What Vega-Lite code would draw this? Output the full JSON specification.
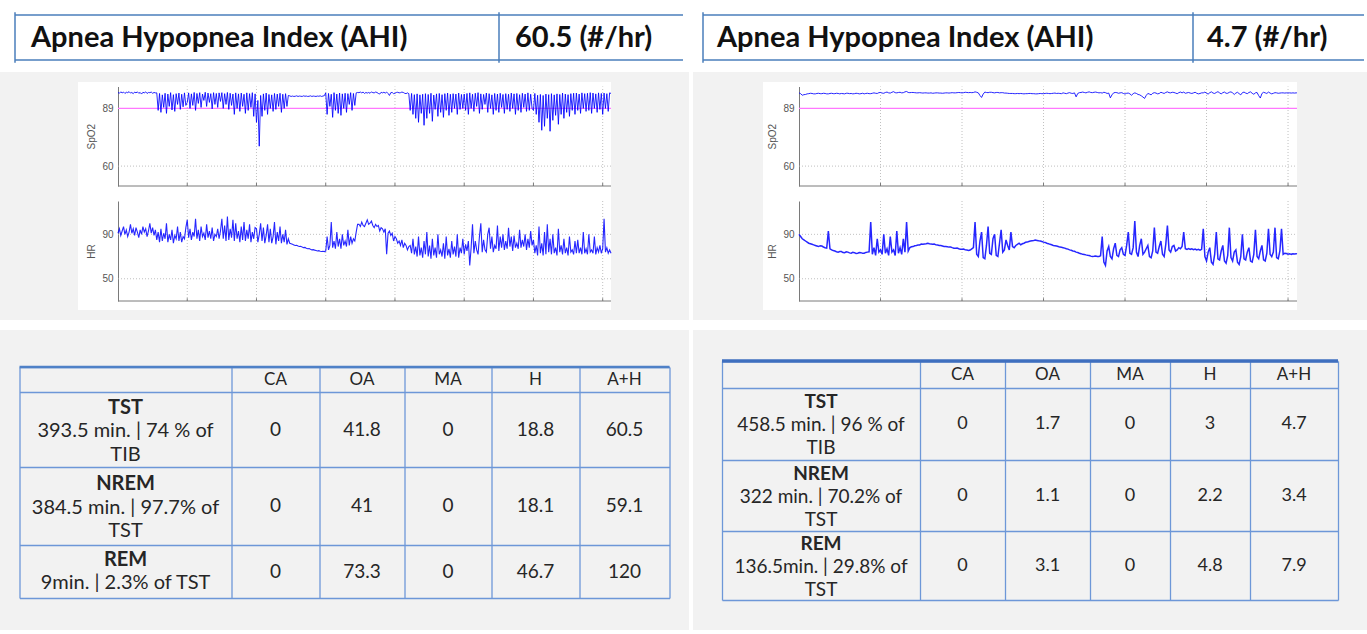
{
"$schema":"https://vega.github.io/schema/vega-lite/v6.json",
"background":"#f2f2f2",
"padding":0,
"spacing":0,
"config":{"view":{"stroke":null},"font":"Lato",
"axis":{"labelFont":"Liberation Sans","labelFontSize":10,"labelColor":"#555555","titleFont":"Liberation Sans","titleFontSize":10,"titleFontWeight":"normal","titleColor":"#555555","domainColor":"#7a7a7a","tickSize":0,"labelPadding":5,"titlePadding":5,"grid":false}},
"datasets":{
"L":[{"t":0,"s":97,"h":91},{"t":0.02,"s":96.6,"h":95},{"t":0.04,"s":97.3,"h":89},{"t":0.06,"s":96.8,"h":93},{"t":0.08,"s":97.2,"h":97},{"t":0.1,"s":96.5,"h":90},{"t":0.12,"s":97.1,"h":94},{"t":0.14,"s":96.9,"h":88},{"t":0.16,"s":97.4,"h":92},{"t":0.18,"s":96.7,"h":99},{"t":0.2,"s":97,"h":91},{"t":0.22,"s":96.4,"h":95},{"t":0.24,"s":97.2,"h":89},{"t":0.26,"s":96.8,"h":96},{"t":0.28,"s":97.3,"h":92},{"t":0.3,"s":96.6,"h":87},{"t":0.32,"s":97,"h":94},{"t":0.34,"s":96.2,"h":90},{"t":0.36,"s":97.1,"h":97},{"t":0.38,"s":96.8,"h":92},{"t":0.4,"s":97.3,"h":95},{"t":0.42,"s":96.5,"h":88},{"t":0.44,"s":97,"h":93},{"t":0.46,"s":96.9,"h":100},{"t":0.48,"s":97.2,"h":91},{"t":0.5,"s":96.6,"h":96},{"t":0.52,"s":97,"h":89},{"t":0.54,"s":96.8,"h":94},
{"t":0.56,"s":96.8,"h":85},{"t":0.58,"s":88,"h":92},{"t":0.6,"s":96.5,"h":83},{"t":0.62,"s":87,"h":95},{"t":0.64,"s":95.8,"h":84},{"t":0.66,"s":89.5,"h":91},{"t":0.68,"s":96.6,"h":86},{"t":0.7,"s":86.5,"h":100},{"t":0.72,"s":96.2,"h":83},{"t":0.74,"s":90,"h":90},{"t":0.76,"s":96.9,"h":85},{"t":0.78,"s":88.2,"h":94},{"t":0.8,"s":95.9,"h":82},{"t":0.82,"s":87.5,"h":89},{"t":0.84,"s":96.4,"h":86},{"t":0.86,"s":91,"h":97},{"t":0.88,"s":96.7,"h":84},{"t":0.9,"s":88.5,"h":92},{"t":0.92,"s":96.1,"h":83},{"t":0.94,"s":89.8,"h":88},{"t":0.96,"s":96.8,"h":86},{"t":0.98,"s":90.5,"h":96},
{"t":1,"s":92,"h":103},{"t":1.02,"s":96.8,"h":87},{"t":1.04,"s":89,"h":95},{"t":1.06,"s":96.3,"h":85},{"t":1.08,"s":90.5,"h":92},{"t":1.1,"s":97,"h":88},{"t":1.12,"s":88,"h":104},{"t":1.14,"s":96.5,"h":86},{"t":1.16,"s":91.5,"h":94},{"t":1.18,"s":96.9,"h":84},{"t":1.2,"s":89.5,"h":97},{"t":1.22,"s":96.2,"h":88},{"t":1.24,"s":93,"h":91},{"t":1.26,"s":97.1,"h":85},{"t":1.28,"s":90,"h":99},{"t":1.3,"s":96.7,"h":87},{"t":1.32,"s":92,"h":93},{"t":1.34,"s":96.4,"h":86},{"t":1.36,"s":88.8,"h":96},{"t":1.38,"s":96.9,"h":84},{"t":1.4,"s":91,"h":90},{"t":1.42,"s":96.5,"h":88},{"t":1.44,"s":89.5,"h":95},{"t":1.46,"s":96.8,"h":86},{"t":1.48,"s":92.5,"h":93},
{"t":1.5,"s":96.9,"h":104},{"t":1.52,"s":89,"h":86},{"t":1.54,"s":96.4,"h":98},{"t":1.56,"s":91,"h":84},{"t":1.58,"s":97,"h":106},{"t":1.6,"s":88.5,"h":85},{"t":1.62,"s":96.6,"h":95},{"t":1.64,"s":90.5,"h":87},{"t":1.66,"s":96.2,"h":103},{"t":1.68,"s":86,"h":84},{"t":1.7,"s":96.8,"h":100},{"t":1.72,"s":89,"h":86},{"t":1.74,"s":96.3,"h":93},{"t":1.76,"s":87.5,"h":83},{"t":1.78,"s":96.7,"h":97},{"t":1.8,"s":90,"h":85},{"t":1.82,"s":96.1,"h":101},{"t":1.84,"s":86.5,"h":84},{"t":1.86,"s":96.8,"h":94},{"t":1.88,"s":88,"h":86},{"t":1.9,"s":96.4,"h":99},{"t":1.92,"s":89.5,"h":83},{"t":1.94,"s":96.9,"h":92},{"t":1.96,"s":85,"h":86},{"t":1.98,"s":96.3,"h":96},
{"t":2,"s":82,"h":95},{"t":2.02,"s":93,"h":83},{"t":2.04,"s":70,"h":90},{"t":2.06,"s":95.5,"h":100},{"t":2.08,"s":85,"h":84},{"t":2.1,"s":96.3,"h":96},{"t":2.12,"s":88,"h":82},{"t":2.14,"s":96.7,"h":89},{"t":2.16,"s":86,"h":99},{"t":2.18,"s":96,"h":83},{"t":2.2,"s":89,"h":95},{"t":2.22,"s":95.8,"h":82},{"t":2.24,"s":87.5,"h":88},{"t":2.26,"s":96.5,"h":101},{"t":2.28,"s":88.5,"h":81},{"t":2.3,"s":96.2,"h":92},{"t":2.32,"s":90,"h":84},{"t":2.34,"s":96.6,"h":97},{"t":2.36,"s":87,"h":82},{"t":2.38,"s":96.1,"h":90},{"t":2.4,"s":89,"h":83},{"t":2.42,"s":96.4,"h":94},{"t":2.44,"s":90,"h":81},{"t":2.46,"s":95.5,"h":86},
{"t":2.48,"s":95.3,"h":82},{"t":2.5,"s":95,"h":81.5},{"t":2.52,"s":95.2,"h":81},{"t":2.54,"s":95,"h":80.5},{"t":2.56,"s":95.1,"h":80},{"t":2.58,"s":95.3,"h":80.2},{"t":2.6,"s":95,"h":79.5},{"t":2.62,"s":95.2,"h":79},{"t":2.64,"s":95.1,"h":79.2},{"t":2.66,"s":95,"h":78.5},{"t":2.68,"s":95.3,"h":78},{"t":2.7,"s":95.1,"h":78.2},{"t":2.72,"s":95.2,"h":77.5},{"t":2.74,"s":95,"h":77},{"t":2.76,"s":95.1,"h":77.2},{"t":2.78,"s":95.3,"h":76.5},{"t":2.8,"s":95,"h":76},{"t":2.82,"s":95.2,"h":76.2},{"t":2.84,"s":95.1,"h":75.8},{"t":2.86,"s":95,"h":75.5},{"t":2.88,"s":95.2,"h":75},{"t":2.9,"s":95.1,"h":75.3},{"t":2.92,"s":95.3,"h":74.8},{"t":2.94,"s":95,"h":74.5},{"t":2.96,"s":95.2,"h":74.8},{"t":2.98,"s":95.4,"h":74.5},
{"t":3,"s":96.8,"h":75},{"t":3.02,"s":86,"h":88},{"t":3.04,"s":96.5,"h":76},{"t":3.06,"s":90,"h":80},{"t":3.08,"s":96.1,"h":101},{"t":3.1,"s":84.5,"h":78},{"t":3.12,"s":96.9,"h":84},{"t":3.14,"s":88,"h":77},{"t":3.16,"s":96.2,"h":92},{"t":3.18,"s":86.5,"h":79},{"t":3.2,"s":96.7,"h":86},{"t":3.22,"s":85.5,"h":77},{"t":3.24,"s":96.3,"h":90},{"t":3.26,"s":89,"h":80},{"t":3.28,"s":96.6,"h":84},{"t":3.3,"s":87,"h":79},{"t":3.32,"s":96.4,"h":94},{"t":3.34,"s":91,"h":80},{"t":3.36,"s":96.9,"h":88},{"t":3.38,"s":88,"h":82},{"t":3.4,"s":96.5,"h":86},{"t":3.42,"s":90.5,"h":84},{"t":3.44,"s":96.8,"h":92},{"t":3.46,"s":97,"h":99},
{"t":3.48,"s":96.9,"h":99},{"t":3.5,"s":97.2,"h":97},{"t":3.52,"s":96.8,"h":101},{"t":3.54,"s":97.2,"h":98},{"t":3.56,"s":96.5,"h":97},{"t":3.58,"s":97,"h":100},{"t":3.6,"s":96.7,"h":103},{"t":3.62,"s":97,"h":99},{"t":3.64,"s":96.6,"h":100},{"t":3.66,"s":97.3,"h":102},{"t":3.68,"s":96.9,"h":98},{"t":3.7,"s":96.8,"h":96},{"t":3.72,"s":97.2,"h":99},{"t":3.74,"s":97,"h":97},{"t":3.76,"s":96.5,"h":98},{"t":3.78,"s":96.2,"h":93},{"t":3.8,"s":97.1,"h":96},{"t":3.82,"s":96.8,"h":95},{"t":3.84,"s":97.1,"h":92},{"t":3.86,"s":96.7,"h":95},{"t":3.88,"s":97.2,"h":72},{"t":3.9,"s":96.5,"h":91},{"t":3.92,"s":95.5,"h":93},{"t":3.94,"s":96.9,"h":89},{"t":3.96,"s":97,"h":91},{"t":3.98,"s":96.4,"h":84},{"t":4,"s":96.6,"h":88},{"t":4.02,"s":97,"h":86},{"t":4.04,"s":97.1,"h":82},{"t":4.06,"s":96.8,"h":84},{"t":4.08,"s":96.9,"h":80},{"t":4.1,"s":97.2,"h":85},{"t":4.12,"s":97,"h":78},{"t":4.14,"s":96.6,"h":82},{"t":4.16,"s":96.4,"h":80},{"t":4.18,"s":96.8,"h":76},{"t":4.2,"s":96.4,"h":79},
{"t":4.22,"s":88,"h":80},{"t":4.24,"s":96.5,"h":73},{"t":4.26,"s":86,"h":86},{"t":4.28,"s":95.9,"h":72},{"t":4.3,"s":84,"h":79},{"t":4.32,"s":96.3,"h":70},{"t":4.34,"s":82,"h":88},{"t":4.36,"s":95.8,"h":71},{"t":4.38,"s":86.5,"h":78},{"t":4.4,"s":96.1,"h":69},{"t":4.42,"s":80.5,"h":84},{"t":4.44,"s":96.4,"h":72},{"t":4.46,"s":84,"h":92},{"t":4.48,"s":96,"h":70},{"t":4.5,"s":86.5,"h":80},{"t":4.52,"s":96.6,"h":68},{"t":4.54,"s":82.5,"h":86},{"t":4.56,"s":95.7,"h":71},{"t":4.58,"s":88.5,"h":78},{"t":4.6,"s":96.3,"h":69},{"t":4.62,"s":85,"h":90},{"t":4.64,"s":96.5,"h":72},{"t":4.66,"s":87,"h":76},{"t":4.68,"s":95.9,"h":70},{"t":4.7,"s":84.5,"h":82},{"t":4.72,"s":96.4,"h":68},{"t":4.74,"s":88,"h":88},{"t":4.76,"s":96.7,"h":71},{"t":4.78,"s":85.5,"h":77},{"t":4.8,"s":96.1,"h":69},{"t":4.82,"s":87,"h":84},{"t":4.84,"s":96.4,"h":72},{"t":4.86,"s":89,"h":79},{"t":4.88,"s":96.2,"h":70},{"t":4.9,"s":86,"h":90},{"t":4.92,"s":96.7,"h":69},{"t":4.94,"s":88.5,"h":78},{"t":4.96,"s":96,"h":73},{"t":4.98,"s":89,"h":86},
{"t":5,"s":96.2,"h":72},{"t":5.02,"s":88,"h":81},{"t":5.04,"s":96.5,"h":75},{"t":5.06,"s":86,"h":84},{"t":5.08,"s":96.8,"h":62},{"t":5.1,"s":89,"h":78},{"t":5.12,"s":96.1,"h":99},{"t":5.14,"s":87.5,"h":73},{"t":5.16,"s":96.6,"h":84},{"t":5.18,"s":90,"h":76},{"t":5.2,"s":96.9,"h":72},{"t":5.22,"s":86.5,"h":88},{"t":5.24,"s":96.3,"h":100},{"t":5.26,"s":88.5,"h":74},{"t":5.28,"s":96,"h":85},{"t":5.3,"s":91,"h":76},{"t":5.32,"s":96.7,"h":74},{"t":5.34,"s":87,"h":90},{"t":5.36,"s":96.4,"h":96},{"t":5.38,"s":89,"h":77},{"t":5.4,"s":95.8,"h":88},{"t":5.42,"s":86,"h":74},{"t":5.44,"s":96.5,"h":80},{"t":5.46,"s":88,"h":77},{"t":5.48,"s":96.2,"h":98},{"t":5.5,"s":87,"h":75},{"t":5.52,"s":96.6,"h":88},{"t":5.54,"s":89.5,"h":78},{"t":5.56,"s":96,"h":90},{"t":5.58,"s":86.5,"h":76},{"t":5.6,"s":96.4,"h":84},{"t":5.62,"s":88.5,"h":77},{"t":5.64,"s":96.1,"h":96},{"t":5.66,"s":87.5,"h":79},{"t":5.68,"s":96.7,"h":88},{"t":5.7,"s":89,"h":75},{"t":5.72,"s":96.3,"h":89},{"t":5.74,"s":86,"h":78},{"t":5.76,"s":96.5,"h":82},{"t":5.78,"s":88,"h":77},{"t":5.8,"s":95.9,"h":94},{"t":5.82,"s":87,"h":78},{"t":5.84,"s":96.6,"h":85},{"t":5.86,"s":89.5,"h":79},{"t":5.88,"s":96.2,"h":90},{"t":5.9,"s":87.5,"h":76},{"t":5.92,"s":96.8,"h":86},{"t":5.94,"s":88,"h":78},{"t":5.96,"s":96.1,"h":93},{"t":5.98,"s":89,"h":80},
{"t":6,"s":88,"h":85},{"t":6.02,"s":96.5,"h":73},{"t":6.04,"s":86,"h":80},{"t":6.06,"s":95.6,"h":71},{"t":6.08,"s":82,"h":97},{"t":6.1,"s":96,"h":73},{"t":6.12,"s":78,"h":82},{"t":6.14,"s":95.5,"h":71},{"t":6.16,"s":80,"h":92},{"t":6.18,"s":96.2,"h":72},{"t":6.2,"s":84,"h":99},{"t":6.22,"s":95.9,"h":74},{"t":6.24,"s":77.5,"h":86},{"t":6.26,"s":96.4,"h":72},{"t":6.28,"s":83,"h":90},{"t":6.3,"s":95.8,"h":73},{"t":6.32,"s":85.5,"h":78},{"t":6.34,"s":96.3,"h":71},{"t":6.36,"s":81,"h":95},{"t":6.38,"s":96,"h":74},{"t":6.4,"s":86,"h":80},{"t":6.42,"s":96.7,"h":72},{"t":6.44,"s":84,"h":86},{"t":6.46,"s":96.2,"h":73},{"t":6.48,"s":87,"h":78},{"t":6.5,"s":95.9,"h":71},{"t":6.52,"s":85,"h":88},{"t":6.54,"s":96.4,"h":74},{"t":6.56,"s":88,"h":76},{"t":6.58,"s":96.6,"h":72},{"t":6.6,"s":86,"h":84},{"t":6.62,"s":96.7,"h":73},
{"t":6.64,"s":88,"h":85},{"t":6.66,"s":96.2,"h":73},{"t":6.68,"s":86.5,"h":78},{"t":6.7,"s":96.8,"h":72},{"t":6.72,"s":89,"h":92},{"t":6.74,"s":96.4,"h":73},{"t":6.76,"s":87.5,"h":77},{"t":6.78,"s":96.6,"h":72},{"t":6.8,"s":88,"h":90},{"t":6.82,"s":96.9,"h":74},{"t":6.84,"s":86.5,"h":76},{"t":6.86,"s":96.7,"h":73},{"t":6.88,"s":89,"h":88},{"t":6.9,"s":96.3,"h":72},{"t":6.92,"s":87,"h":78},{"t":6.94,"s":96.8,"h":74},{"t":6.96,"s":88.5,"h":80},{"t":6.98,"s":96.5,"h":73},{"t":7,"s":86,"h":77},{"t":7.02,"s":96.7,"h":104},{"t":7.04,"s":89,"h":74},{"t":7.06,"s":96.4,"h":78},{"t":7.08,"s":87.5,"h":73},{"t":7.1,"s":96.8,"h":76},{"t":7.12,"s":96.5,"h":73}],
"R":[{"t":0,"s":96.8,"h":90},{"t":0.02,"s":96.4,"h":88},{"t":0.04,"s":95.6,"h":86},{"t":0.06,"s":95.9,"h":85},{"t":0.08,"s":96,"h":84},{"t":0.1,"s":96.3,"h":83},{"t":0.12,"s":96.4,"h":82},{"t":0.14,"s":96.6,"h":81.5},{"t":0.16,"s":96.5,"h":81},{"t":0.18,"s":96.3,"h":80.5},{"t":0.2,"s":96.3,"h":80},{"t":0.22,"s":96.5,"h":79.5},{"t":0.24,"s":96.6,"h":79},{"t":0.26,"s":96.4,"h":79.8},{"t":0.28,"s":96.4,"h":79.5},{"t":0.3,"s":96.6,"h":78.6},{"t":0.32,"s":96.5,"h":78},{"t":0.34,"s":96.3,"h":77.6},{"t":0.36,"s":96.3,"h":93},{"t":0.38,"s":96.5,"h":77},{"t":0.4,"s":96.6,"h":76},{"t":0.42,"s":96.4,"h":75.4},{"t":0.44,"s":96.4,"h":75},{"t":0.46,"s":96.6,"h":74.4},{"t":0.48,"s":96.5,"h":74},{"t":0.5,"s":96.3,"h":74.6},{"t":0.52,"s":96.5,"h":74.5},{"t":0.54,"s":96.4,"h":73.6},{"t":0.56,"s":96.3,"h":73.5},{"t":0.58,"s":96.6,"h":74.2},{"t":0.6,"s":96.6,"h":74},{"t":0.62,"s":96.4,"h":73.3},{"t":0.64,"s":96.5,"h":73},{"t":0.66,"s":96.3,"h":73.8},{"t":0.68,"s":96.4,"h":73.5},{"t":0.7,"s":96.6,"h":72.8},{"t":0.72,"s":96.5,"h":73},{"t":0.74,"s":96.3,"h":73.6},{"t":0.76,"s":96.4,"h":73.5},{"t":0.78,"s":96.6,"h":72.9},{"t":0.8,"s":96.3,"h":73},{"t":0.82,"s":96.5,"h":73.7},{"t":0.84,"s":96.6,"h":74},{"t":0.86,"s":96.4,"h":74.3},
{"t":0.88,"s":96.4,"h":101},{"t":0.9,"s":96.6,"h":72},{"t":0.92,"s":96.8,"h":78},{"t":0.94,"s":96.6,"h":71},{"t":0.96,"s":96.5,"h":86},{"t":0.98,"s":96.9,"h":74},{"t":1,"s":97,"h":76},{"t":1.02,"s":96.7,"h":72},{"t":1.04,"s":96.6,"h":90},{"t":1.06,"s":97,"h":73},{"t":1.08,"s":97.2,"h":77},{"t":1.1,"s":96.8,"h":71},{"t":1.12,"s":96.7,"h":88},{"t":1.14,"s":97.1,"h":74},{"t":1.16,"s":97.4,"h":76},{"t":1.18,"s":96.9,"h":71},{"t":1.2,"s":96.8,"h":93},{"t":1.22,"s":97,"h":73},{"t":1.24,"s":97.1,"h":78},{"t":1.26,"s":96.8,"h":72},{"t":1.28,"s":96.9,"h":86},{"t":1.3,"s":97.3,"h":74},{"t":1.32,"s":97.5,"h":101},{"t":1.34,"s":97,"h":75},
{"t":1.36,"s":96.9,"h":78},{"t":1.38,"s":97,"h":78.8},{"t":1.4,"s":97,"h":79},{"t":1.42,"s":96.9,"h":79.7},{"t":1.44,"s":96.8,"h":80},{"t":1.46,"s":96.8,"h":80.4},{"t":1.48,"s":96.9,"h":80.5},{"t":1.5,"s":96.8,"h":81.2},{"t":1.52,"s":96.7,"h":81},{"t":1.54,"s":96.8,"h":81.3},{"t":1.56,"s":96.8,"h":81.5},{"t":1.58,"s":96.7,"h":81.9},{"t":1.6,"s":96.7,"h":81.5},{"t":1.62,"s":96.8,"h":81.2},{"t":1.64,"s":96.6,"h":81},{"t":1.66,"s":96.7,"h":81.2},{"t":1.68,"s":96.8,"h":80.5},{"t":1.7,"s":96.8,"h":80.3},{"t":1.72,"s":96.7,"h":80},{"t":1.74,"s":96.7,"h":79.9},{"t":1.76,"s":96.6,"h":79.5},{"t":1.78,"s":96.7,"h":79.1},{"t":1.8,"s":96.8,"h":79},{"t":1.82,"s":96.8,"h":78.8},{"t":1.84,"s":96.7,"h":78.5},{"t":1.86,"s":96.8,"h":78.6},{"t":1.88,"s":96.9,"h":78},{"t":1.9,"s":96.8,"h":77.5},{"t":1.92,"s":96.8,"h":77.5},{"t":1.94,"s":96.9,"h":77.6},{"t":1.96,"s":97,"h":77},{"t":1.98,"s":96.9,"h":76.6},{"t":2,"s":96.8,"h":76.5},{"t":2.02,"s":96.9,"h":76.7},{"t":2.04,"s":97.1,"h":76},{"t":2.06,"s":97,"h":75.8},{"t":2.08,"s":96.9,"h":75.5},{"t":2.1,"s":97,"h":75.9},{"t":2.12,"s":96.9,"h":77},
{"t":2.14,"s":97,"h":78},{"t":2.16,"s":97.3,"h":101},{"t":2.18,"s":97.1,"h":72},{"t":2.2,"s":96.8,"h":70},{"t":2.22,"s":95.5,"h":84},{"t":2.24,"s":94.5,"h":92},{"t":2.26,"s":96.2,"h":69},{"t":2.28,"s":97.2,"h":68},{"t":2.3,"s":97,"h":80},{"t":2.32,"s":96.9,"h":97},{"t":2.34,"s":97.1,"h":73},{"t":2.36,"s":97.1,"h":72},{"t":2.38,"s":96.9,"h":86},{"t":2.4,"s":96.8,"h":90},{"t":2.42,"s":97,"h":71},{"t":2.44,"s":97,"h":70},{"t":2.46,"s":96.8,"h":82},{"t":2.48,"s":96.9,"h":94},{"t":2.5,"s":96.9,"h":74},{"t":2.52,"s":96.7,"h":76},{"t":2.54,"s":96.7,"h":85},{"t":2.56,"s":96.6,"h":80},{"t":2.58,"s":96.5,"h":76},{"t":2.6,"s":96.5,"h":92},{"t":2.62,"s":96.5,"h":79},{"t":2.64,"s":96.4,"h":78},{"t":2.66,"s":96.4,"h":80},{"t":2.68,"s":96.5,"h":81},{"t":2.7,"s":96.4,"h":82},
{"t":2.72,"s":96.5,"h":80.5},{"t":2.74,"s":96.4,"h":81.5},{"t":2.76,"s":96.3,"h":82},{"t":2.78,"s":96.4,"h":82.8},{"t":2.8,"s":96.4,"h":83},{"t":2.82,"s":96.5,"h":83.6},{"t":2.84,"s":96.5,"h":84},{"t":2.86,"s":96.4,"h":84.3},{"t":2.88,"s":96.4,"h":84.5},{"t":2.9,"s":96.3,"h":84.8},{"t":2.92,"s":96.3,"h":84.5},{"t":2.94,"s":96.4,"h":84.2},{"t":2.96,"s":96.5,"h":84},{"t":2.98,"s":96.4,"h":83.6},{"t":3,"s":96.4,"h":83},{"t":3.02,"s":96.5,"h":82.7},{"t":3.04,"s":96.6,"h":82},{"t":3.06,"s":96.5,"h":81.6},{"t":3.08,"s":96.4,"h":81},{"t":3.1,"s":96.5,"h":80.6},{"t":3.12,"s":96.6,"h":80},{"t":3.14,"s":96.7,"h":79.8},{"t":3.16,"s":96.5,"h":79.5},{"t":3.18,"s":96.6,"h":79},{"t":3.2,"s":96.5,"h":78.5},{"t":3.22,"s":96.4,"h":78.3},{"t":3.24,"s":96.8,"h":78},{"t":3.26,"s":96.6,"h":77.6},{"t":3.28,"s":96.4,"h":77},{"t":3.3,"s":96.7,"h":76.7},{"t":3.32,"s":96.9,"h":76},{"t":3.34,"s":96.6,"h":75.6},{"t":3.36,"s":96.5,"h":75},{"t":3.38,"s":96.8,"h":74.7},{"t":3.4,"s":94.8,"h":74},{"t":3.42,"s":96.5,"h":73.6},{"t":3.44,"s":96.9,"h":73},{"t":3.46,"s":97,"h":72.6},{"t":3.48,"s":97.2,"h":72},{"t":3.5,"s":97,"h":71.9},{"t":3.52,"s":96.8,"h":71.5},{"t":3.54,"s":97.1,"h":71.2},{"t":3.56,"s":97.3,"h":71},{"t":3.58,"s":97,"h":70.4},{"t":3.6,"s":96.9,"h":70},{"t":3.62,"s":97.1,"h":70.2},{"t":3.64,"s":97.2,"h":70.5},{"t":3.66,"s":97,"h":70.1},{"t":3.68,"s":96.8,"h":70},{"t":3.7,"s":96.9,"h":70.8},
{"t":3.72,"s":96.7,"h":88},{"t":3.74,"s":97.1,"h":65},{"t":3.76,"s":96.9,"h":62},{"t":3.78,"s":96.5,"h":75},{"t":3.8,"s":96.7,"h":79},{"t":3.82,"s":94.3,"h":70},{"t":3.84,"s":95.8,"h":68},{"t":3.86,"s":96.8,"h":77},{"t":3.88,"s":97,"h":82},{"t":3.9,"s":96.9,"h":71},{"t":3.92,"s":96.6,"h":70},{"t":3.94,"s":96.8,"h":76},{"t":3.96,"s":96.9,"h":78},{"t":3.98,"s":96.5,"h":72},{"t":4,"s":96.2,"h":71},{"t":4.02,"s":96.6,"h":80},{"t":4.04,"s":96.7,"h":92},{"t":4.06,"s":96.3,"h":73},{"t":4.08,"s":95.6,"h":72},{"t":4.1,"s":96.4,"h":78},{"t":4.12,"s":96.8,"h":102},{"t":4.14,"s":96.5,"h":74},{"t":4.16,"s":96,"h":70},{"t":4.18,"s":95.8,"h":80},{"t":4.2,"s":95.3,"h":86},{"t":4.22,"s":94.7,"h":72},{"t":4.24,"s":94,"h":74},{"t":4.26,"s":95.5,"h":77},{"t":4.28,"s":96.5,"h":80},{"t":4.3,"s":96.2,"h":70},{"t":4.32,"s":95.8,"h":69},{"t":4.34,"s":96.6,"h":75},{"t":4.36,"s":96.9,"h":96},{"t":4.38,"s":96.7,"h":74},{"t":4.4,"s":96.3,"h":73},{"t":4.42,"s":96.5,"h":79},{"t":4.44,"s":97.1,"h":84},{"t":4.46,"s":96.8,"h":72},{"t":4.48,"s":96.5,"h":70},{"t":4.5,"s":97,"h":81},{"t":4.52,"s":97.3,"h":98},{"t":4.54,"s":96.9,"h":76},{"t":4.56,"s":96.8,"h":74},{"t":4.58,"s":97.1,"h":79},{"t":4.6,"s":97,"h":80},{"t":4.62,"s":96.7,"h":75},{"t":4.64,"s":96.4,"h":76},{"t":4.66,"s":96.9,"h":78},{"t":4.68,"s":97.2,"h":77},{"t":4.7,"s":96.8,"h":79},
{"t":4.72,"s":97.2,"h":92},{"t":4.74,"s":96.6,"h":77},{"t":4.76,"s":96.8,"h":76.5},{"t":4.78,"s":97,"h":77.2},{"t":4.8,"s":96.7,"h":76.5},{"t":4.82,"s":96.5,"h":77},{"t":4.84,"s":96.8,"h":76.2},{"t":4.86,"s":97.1,"h":76.8},{"t":4.88,"s":96.6,"h":76},{"t":4.9,"s":96.3,"h":76.5},{"t":4.92,"s":96.5,"h":75.8},{"t":4.94,"s":96.8,"h":76.5},
{"t":4.96,"s":96.8,"h":95},{"t":4.98,"s":97.2,"h":70},{"t":5,"s":96.6,"h":66},{"t":5.02,"s":96.2,"h":74},{"t":5.04,"s":96.9,"h":78},{"t":5.06,"s":97.3,"h":65},{"t":5.08,"s":96.7,"h":63},{"t":5.1,"s":96.5,"h":72},{"t":5.12,"s":97,"h":92},{"t":5.14,"s":97.4,"h":68},{"t":5.16,"s":96.8,"h":67},{"t":5.18,"s":96.3,"h":75},{"t":5.2,"s":96.9,"h":80},{"t":5.22,"s":97.2,"h":66},{"t":5.24,"s":96.6,"h":64},{"t":5.26,"s":96.6,"h":71},{"t":5.28,"s":97.1,"h":96},{"t":5.3,"s":97.3,"h":69},{"t":5.32,"s":96.8,"h":66},{"t":5.34,"s":96,"h":74},{"t":5.36,"s":96.7,"h":76},{"t":5.38,"s":97.1,"h":65},{"t":5.4,"s":96.4,"h":63},{"t":5.42,"s":95.8,"h":70},{"t":5.44,"s":96.9,"h":90},{"t":5.46,"s":97.2,"h":68},{"t":5.48,"s":96.7,"h":67},{"t":5.5,"s":96.4,"h":74},{"t":5.52,"s":97,"h":78},{"t":5.54,"s":97.3,"h":66},{"t":5.56,"s":96.6,"h":65},{"t":5.58,"s":96.1,"h":72},{"t":5.6,"s":96.8,"h":94},{"t":5.62,"s":97,"h":70},{"t":5.64,"s":95.4,"h":68},{"t":5.66,"s":94.2,"h":75},{"t":5.68,"s":96.5,"h":80},{"t":5.7,"s":97.1,"h":67},{"t":5.72,"s":96.8,"h":66},{"t":5.74,"s":96.5,"h":73},{"t":5.76,"s":97.2,"h":95},{"t":5.78,"s":96.7,"h":72},{"t":5.8,"s":96.3,"h":70},{"t":5.82,"s":96.6,"h":74},{"t":5.84,"s":96.9,"h":96},{"t":5.86,"s":96.8,"h":69},{"t":5.88,"s":96.6,"h":68},{"t":5.9,"s":96.7,"h":75},{"t":5.92,"s":96.8,"h":95},{"t":5.94,"s":96.8,"h":72},{"t":5.96,"s":96.7,"h":73},
{"t":5.98,"s":96.8,"h":72.8},{"t":6,"s":96.7,"h":72.2},{"t":6.02,"s":96.8,"h":72.6},{"t":6.04,"s":96.7,"h":72},{"t":6.06,"s":96.8,"h":72.5},{"t":6.08,"s":96.7,"h":72.3},{"t":6.1,"s":96.8,"h":72.6},{"t":6.11,"s":96.8,"h":72.4}]
},
"hconcat":[
{"vconcat":[
 {"width":689,"height":72,"view":{"fill":"#ffffff"},
  "layer":[
   {"data":{"values":[{"c":0},{"c":1}]},"mark":{"type":"rule","color":"#4a7ebb","strokeWidth":1.5},
    "encoding":{"x":{"field":"c","type":"quantitative","scale":{"domain":[0,1,2],"range":[15,499,683],"nice":false,"zero":false},"axis":null},
     "y":{"datum":-0.06,"type":"quantitative","scale":{"domain":[0,1],"range":[15,60],"nice":false,"zero":false},"axis":null},"y2":{"datum":1.06}}},
   {"data":{"values":[{"r":0},{"r":1}]},"mark":{"type":"rule","color":"#4a7ebb","strokeWidth":1.5},
    "encoding":{"y":{"field":"r","type":"quantitative","axis":null},"x":{"datum":0,"type":"quantitative","axis":null},"x2":{"datum":2}}},
   {"data":{"values":[{"c":0,"txt":"Apnea Hypopnea Index (AHI)"},{"c":1,"txt":"60.5 (#/hr)"}]},
    "mark":{"type":"text","align":"left","baseline":"middle","dx":16,"font":"Lato","fontWeight":"bold","fontSize":29,"color":"#111111"},
    "encoding":{"x":{"field":"c","type":"quantitative","axis":null},"y":{"datum":0.5,"type":"quantitative","axis":null},"text":{"field":"txt","type":"nominal"}}}
  ]},
 {"width":689,"height":10,"data":{"values":[{}]},"mark":{"type":"text","text":"","fontSize":1}},
 {"width":533,"height":228,"view":{"fill":"#ffffff"},"data":{"name":"L"},
  "resolve":{"scale":{"y":"independent"},"axis":{"y":"independent"}},
  "layer":[
   {"layer":[
     {"data":{"values":[{"g":1},{"g":2},{"g":3},{"g":4},{"g":5},{"g":6},{"g":7}]},"mark":{"type":"rule","color":"#b0b0b0","strokeDash":[1,2],"strokeWidth":0.8},
      "encoding":{"x":{"field":"g","type":"quantitative","scale":{"domain":[0,7.12],"range":[40,533],"nice":false,"zero":false},"axis":null},
       "y":{"datum":50,"type":"quantitative","scale":{"domain":[50,100],"range":[104,4.5],"nice":false,"zero":false},"axis":{"orient":"left","offset":-40,"values":[60,89],"title":"SpO2"}},"y2":{"datum":100}}},
     {"data":{"values":[{}]},"mark":{"type":"rule","color":"#b0b0b0","strokeDash":[1,2],"strokeWidth":0.8},
      "encoding":{"x":{"datum":0,"type":"quantitative","axis":null},"x2":{"datum":7.12},"y":{"datum":60,"type":"quantitative"}}},
     {"data":{"values":[{}]},"mark":{"type":"rule","color":"#ff77ff","strokeWidth":1.2},
      "encoding":{"x":{"datum":0,"type":"quantitative","axis":null},"x2":{"datum":7.12},"y":{"datum":89,"type":"quantitative"}}},
     {"data":{"values":[{}]},"mark":{"type":"rule","color":"#7a7a7a","strokeWidth":1},
      "encoding":{"x":{"datum":0,"type":"quantitative","axis":null},"x2":{"datum":7.12},"y":{"datum":50,"type":"quantitative"}}},
     {"data":{"values":[{"g":1},{"g":2},{"g":3},{"g":4},{"g":5},{"g":6},{"g":7}]},"mark":{"type":"rule","color":"#7a7a7a","strokeWidth":1},
      "encoding":{"x":{"field":"g","type":"quantitative","axis":null},"y":{"datum":50,"type":"quantitative"},"y2":{"datum":51.5}}},
     {"mark":{"type":"line","color":"#0000ff","strokeWidth":1,"opacity":0.85},
      "encoding":{"x":{"field":"t","type":"quantitative","axis":null},"y":{"field":"s","type":"quantitative","title":"SpO2"}}}
   ]},
   {"layer":[
     {"data":{"values":[{"g":1},{"g":2},{"g":3},{"g":4},{"g":5},{"g":6},{"g":7}]},"mark":{"type":"rule","color":"#b0b0b0","strokeDash":[1,2],"strokeWidth":0.8},
      "encoding":{"x":{"field":"g","type":"quantitative","axis":null},
       "y":{"datum":30,"type":"quantitative","scale":{"domain":[30,120],"range":[219,119],"nice":false,"zero":false},"axis":{"orient":"left","offset":-40,"values":[50,90],"title":"HR"}},"y2":{"datum":120}}},
     {"data":{"values":[{"v":50},{"v":90}]},"mark":{"type":"rule","color":"#b0b0b0","strokeDash":[1,2],"strokeWidth":0.8},
      "encoding":{"x":{"datum":0,"type":"quantitative","axis":null},"x2":{"datum":7.12},"y":{"field":"v","type":"quantitative"}}},
     {"data":{"values":[{}]},"mark":{"type":"rule","color":"#7a7a7a","strokeWidth":1},
      "encoding":{"x":{"datum":0,"type":"quantitative","axis":null},"x2":{"datum":7.12},"y":{"datum":30,"type":"quantitative"}}},
     {"data":{"values":[{"g":1},{"g":2},{"g":3},{"g":4},{"g":5},{"g":6},{"g":7}]},"mark":{"type":"rule","color":"#7a7a7a","strokeWidth":1},
      "encoding":{"x":{"field":"g","type":"quantitative","axis":null},"y":{"datum":30,"type":"quantitative"},"y2":{"datum":32.5}}},
     {"mark":{"type":"line","color":"#0000ff","strokeWidth":1.1,"opacity":0.85},
      "encoding":{"x":{"field":"t","type":"quantitative","axis":null},"y":{"field":"h","type":"quantitative","title":"HR"}}}
   ]}
  ]},
 {"width":689,"height":10,"data":{"values":[{}]},"mark":{"type":"text","text":"","fontSize":1}},
 {"width":689,"height":10,"view":{"fill":"#ffffff"},"data":{"values":[{}]},"mark":{"type":"text","text":"","fontSize":1}},
 {"width":689,"height":37,"data":{"values":[{}]},"mark":{"type":"text","text":"","fontSize":1}},
 {"width":650,"height":231,
  "layer":[
   {"data":{"values":[{"r":1,"c":1,"v":"0"},{"r":1,"c":2,"v":"41.8"},{"r":1,"c":3,"v":"0"},{"r":1,"c":4,"v":"18.8"},{"r":1,"c":5,"v":"60.5"},{"r":2,"c":1,"v":"0"},{"r":2,"c":2,"v":"41"},{"r":2,"c":3,"v":"0"},{"r":2,"c":4,"v":"18.1"},{"r":2,"c":5,"v":"59.1"},{"r":3,"c":1,"v":"0"},{"r":3,"c":2,"v":"73.3"},{"r":3,"c":3,"v":"0"},{"r":3,"c":4,"v":"46.7"},{"r":3,"c":5,"v":"120"}]},
    "mark":{"type":"text","font":"Lato","fontSize":19,"color":"#262626","baseline":"middle"},
    "encoding":{
     "x":{"field":"c","type":"quantitative","scale":{"domain":[-0.5,0.5,1.5,2.5,3.5,4.5,5.5],"range":[0,212,300,385,472,560,650],"nice":false,"zero":false},
      "axis":{"orient":"top","values":[-0.5,0.5,1.5,2.5,3.5,4.5,5.5],"grid":true,"gridColor":"#6d97d8","gridWidth":1.3,"labels":false,"ticks":false,"domain":false,"title":null}},
     "y":{"field":"r","type":"quantitative","scale":{"domain":[-0.5,0.5,1.5,2.5,3.5],"range":[0,25,100,178,231],"nice":false,"zero":false},
      "axis":{"orient":"left","values":[-0.5,0.5,1.5,2.5,3.5],"grid":true,"gridColor":"#6d97d8","gridWidth":1.3,"labels":false,"ticks":false,"domain":false,"title":null}},
     "text":{"field":"v","type":"nominal"}}},
   {"data":{"values":[{"r":0,"c":1,"v":"CA"},{"r":0,"c":2,"v":"OA"},{"r":0,"c":3,"v":"MA"},{"r":0,"c":4,"v":"H"},{"r":0,"c":5,"v":"A+H"}]},
    "mark":{"type":"text","font":"Lato","fontSize":17,"color":"#262626","baseline":"middle"},
    "encoding":{"x":{"field":"c","type":"quantitative"},"y":{"field":"r","type":"quantitative"},"text":{"field":"v","type":"nominal"}}},
   {"data":{"values":[{"r":1,"name":["TST","",""]},{"r":2,"name":["NREM","",""]}]},
    "mark":{"type":"text","font":"Lato","fontSize":20,"fontWeight":"bold","lineHeight":23.5,"dy":-22,"color":"#262626","baseline":"middle"},
    "encoding":{"x":{"datum":0,"type":"quantitative"},"y":{"field":"r","type":"quantitative"},"text":{"field":"name","type":"nominal"}}},
   {"data":{"values":[{"r":1,"desc":["","393.5 min. | 74 % of","TIB"]},{"r":2,"desc":["","384.5 min. | 97.7% of","TST"]}]},
    "mark":{"type":"text","font":"Lato","fontSize":20,"lineHeight":23.5,"dy":-22,"color":"#262626","baseline":"middle"},
    "encoding":{"x":{"datum":0,"type":"quantitative"},"y":{"field":"r","type":"quantitative"},"text":{"field":"desc","type":"nominal"}}},
   {"data":{"values":[{"r":3,"name":["REM",""]}]},
    "mark":{"type":"text","font":"Lato","fontSize":20,"fontWeight":"bold","lineHeight":23.5,"dy":-12,"color":"#262626","baseline":"middle"},
    "encoding":{"x":{"datum":0,"type":"quantitative"},"y":{"field":"r","type":"quantitative"},"text":{"field":"name","type":"nominal"}}},
   {"data":{"values":[{"r":3,"desc":["","9min. | 2.3% of TST"]}]},
    "mark":{"type":"text","font":"Lato","fontSize":20,"lineHeight":23.5,"dy":-12,"color":"#262626","baseline":"middle"},
    "encoding":{"x":{"datum":0,"type":"quantitative"},"y":{"field":"r","type":"quantitative"},"text":{"field":"desc","type":"nominal"}}},
   {"data":{"values":[{}]},"mark":{"type":"rule","color":"#4f81c7","strokeWidth":2.5},
    "encoding":{"x":{"datum":-0.5,"type":"quantitative"},"x2":{"datum":5.5},"y":{"datum":-0.5,"type":"quantitative"}}}
  ]},
 {"width":689,"height":32,"data":{"values":[{}]},"mark":{"type":"text","text":"","fontSize":1}}
],"spacing":0,"center":true,"bounds":"flush"},
{"width":4,"height":630,"view":{"fill":"#ffffff"},"data":{"values":[{}]},"mark":{"type":"text","text":"","fontSize":1}},
{"vconcat":[
 {"width":674,"height":72,"view":{"fill":"#ffffff"},
  "layer":[
   {"data":{"values":[{"c":0},{"c":1}]},"mark":{"type":"rule","color":"#4a7ebb","strokeWidth":1.5},
    "encoding":{"x":{"field":"c","type":"quantitative","scale":{"domain":[0,1,2],"range":[10,500,671],"nice":false,"zero":false},"axis":null},
     "y":{"datum":-0.06,"type":"quantitative","scale":{"domain":[0,1],"range":[15,60],"nice":false,"zero":false},"axis":null},"y2":{"datum":1.06}}},
   {"data":{"values":[{"r":0},{"r":1}]},"mark":{"type":"rule","color":"#4a7ebb","strokeWidth":1.5},
    "encoding":{"y":{"field":"r","type":"quantitative","axis":null},"x":{"datum":0,"type":"quantitative","axis":null},"x2":{"datum":2}}},
   {"data":{"values":[{"c":0,"txt":"Apnea Hypopnea Index (AHI)"},{"c":1,"txt":"4.7 (#/hr)"}]},
    "mark":{"type":"text","align":"left","baseline":"middle","dx":14,"font":"Lato","fontWeight":"bold","fontSize":29,"color":"#111111"},
    "encoding":{"x":{"field":"c","type":"quantitative","axis":null},"y":{"datum":0.5,"type":"quantitative","axis":null},"text":{"field":"txt","type":"nominal"}}}
  ]},
 {"width":674,"height":10,"data":{"values":[{}]},"mark":{"type":"text","text":"","fontSize":1}},
 {"width":534,"height":228,"view":{"fill":"#ffffff"},"data":{"name":"R"},
  "resolve":{"scale":{"y":"independent"},"axis":{"y":"independent"}},
  "layer":[
   {"layer":[
     {"data":{"values":[{"g":1},{"g":2},{"g":3},{"g":4},{"g":5},{"g":6}]},"mark":{"type":"rule","color":"#b0b0b0","strokeDash":[1,2],"strokeWidth":0.8},
      "encoding":{"x":{"field":"g","type":"quantitative","scale":{"domain":[0,6.11],"range":[36,534],"nice":false,"zero":false},"axis":null},
       "y":{"datum":50,"type":"quantitative","scale":{"domain":[50,100],"range":[104,4.5],"nice":false,"zero":false},"axis":{"orient":"left","offset":-36,"values":[60,89],"title":"SpO2"}},"y2":{"datum":100}}},
     {"data":{"values":[{}]},"mark":{"type":"rule","color":"#b0b0b0","strokeDash":[1,2],"strokeWidth":0.8},
      "encoding":{"x":{"datum":0,"type":"quantitative","axis":null},"x2":{"datum":6.11},"y":{"datum":60,"type":"quantitative"}}},
     {"data":{"values":[{}]},"mark":{"type":"rule","color":"#ff77ff","strokeWidth":1.2},
      "encoding":{"x":{"datum":0,"type":"quantitative","axis":null},"x2":{"datum":6.11},"y":{"datum":89,"type":"quantitative"}}},
     {"data":{"values":[{}]},"mark":{"type":"rule","color":"#7a7a7a","strokeWidth":1},
      "encoding":{"x":{"datum":0,"type":"quantitative","axis":null},"x2":{"datum":6.11},"y":{"datum":50,"type":"quantitative"}}},
     {"data":{"values":[{"g":1},{"g":2},{"g":3},{"g":4},{"g":5},{"g":6}]},"mark":{"type":"rule","color":"#7a7a7a","strokeWidth":1},
      "encoding":{"x":{"field":"g","type":"quantitative","axis":null},"y":{"datum":50,"type":"quantitative"},"y2":{"datum":51.5}}},
     {"mark":{"type":"line","color":"#0000ff","strokeWidth":1,"opacity":0.85},
      "encoding":{"x":{"field":"t","type":"quantitative","axis":null},"y":{"field":"s","type":"quantitative","title":"SpO2"}}}
   ]},
   {"layer":[
     {"data":{"values":[{"g":1},{"g":2},{"g":3},{"g":4},{"g":5},{"g":6}]},"mark":{"type":"rule","color":"#b0b0b0","strokeDash":[1,2],"strokeWidth":0.8},
      "encoding":{"x":{"field":"g","type":"quantitative","axis":null},
       "y":{"datum":30,"type":"quantitative","scale":{"domain":[30,120],"range":[219,119],"nice":false,"zero":false},"axis":{"orient":"left","offset":-36,"values":[50,90],"title":"HR"}},"y2":{"datum":120}}},
     {"data":{"values":[{"v":50},{"v":90}]},"mark":{"type":"rule","color":"#b0b0b0","strokeDash":[1,2],"strokeWidth":0.8},
      "encoding":{"x":{"datum":0,"type":"quantitative","axis":null},"x2":{"datum":6.11},"y":{"field":"v","type":"quantitative"}}},
     {"data":{"values":[{}]},"mark":{"type":"rule","color":"#7a7a7a","strokeWidth":1},
      "encoding":{"x":{"datum":0,"type":"quantitative","axis":null},"x2":{"datum":6.11},"y":{"datum":30,"type":"quantitative"}}},
     {"data":{"values":[{"g":1},{"g":2},{"g":3},{"g":4},{"g":5},{"g":6}]},"mark":{"type":"rule","color":"#7a7a7a","strokeWidth":1},
      "encoding":{"x":{"field":"g","type":"quantitative","axis":null},"y":{"datum":30,"type":"quantitative"},"y2":{"datum":32.5}}},
     {"mark":{"type":"line","color":"#0000ff","strokeWidth":1.5,"opacity":0.85},
      "encoding":{"x":{"field":"t","type":"quantitative","axis":null},"y":{"field":"h","type":"quantitative","title":"HR"}}}
   ]}
  ]},
 {"width":674,"height":10,"data":{"values":[{}]},"mark":{"type":"text","text":"","fontSize":1}},
 {"width":674,"height":10,"view":{"fill":"#ffffff"},"data":{"values":[{}]},"mark":{"type":"text","text":"","fontSize":1}},
 {"width":674,"height":31,"data":{"values":[{}]},"mark":{"type":"text","text":"","fontSize":1}},
 {"width":616,"height":239,
  "layer":[
   {"data":{"values":[{"r":1,"c":1,"v":"0"},{"r":1,"c":2,"v":"1.7"},{"r":1,"c":3,"v":"0"},{"r":1,"c":4,"v":"3"},{"r":1,"c":5,"v":"4.7"},{"r":2,"c":1,"v":"0"},{"r":2,"c":2,"v":"1.1"},{"r":2,"c":3,"v":"0"},{"r":2,"c":4,"v":"2.2"},{"r":2,"c":5,"v":"3.4"},{"r":3,"c":1,"v":"0"},{"r":3,"c":2,"v":"3.1"},{"r":3,"c":3,"v":"0"},{"r":3,"c":4,"v":"4.8"},{"r":3,"c":5,"v":"7.9"}]},
    "mark":{"type":"text","font":"Lato","fontSize":18,"color":"#262626","baseline":"middle"},
    "encoding":{
     "x":{"field":"c","type":"quantitative","scale":{"domain":[-0.5,0.5,1.5,2.5,3.5,4.5,5.5],"range":[0,198,283,368,448,528,616],"nice":false,"zero":false},
      "axis":{"orient":"top","values":[-0.5,0.5,1.5,2.5,3.5,4.5,5.5],"grid":true,"gridColor":"#6d97d8","gridWidth":1.3,"labels":false,"ticks":false,"domain":false,"title":null}},
     "y":{"field":"r","type":"quantitative","scale":{"domain":[-0.5,0.5,1.5,2.5,3.5],"range":[0,27,99,170,239],"nice":false,"zero":false},
      "axis":{"orient":"left","values":[-0.5,0.5,1.5,2.5,3.5],"grid":true,"gridColor":"#6d97d8","gridWidth":1.3,"labels":false,"ticks":false,"domain":false,"title":null}},
     "text":{"field":"v","type":"nominal"}}},
   {"data":{"values":[{"r":0,"c":1,"v":"CA"},{"r":0,"c":2,"v":"OA"},{"r":0,"c":3,"v":"MA"},{"r":0,"c":4,"v":"H"},{"r":0,"c":5,"v":"A+H"}]},
    "mark":{"type":"text","font":"Lato","fontSize":17,"color":"#262626","baseline":"middle"},
    "encoding":{"x":{"field":"c","type":"quantitative"},"y":{"field":"r","type":"quantitative"},"text":{"field":"v","type":"nominal"}}},
   {"data":{"values":[{"r":1,"name":["TST","",""]},{"r":2,"name":["NREM","",""]},{"r":3,"name":["REM","",""]}]},
    "mark":{"type":"text","font":"Lato","fontSize":19,"fontWeight":"bold","lineHeight":23,"dy":-22,"color":"#262626","baseline":"middle"},
    "encoding":{"x":{"datum":0,"type":"quantitative"},"y":{"field":"r","type":"quantitative"},"text":{"field":"name","type":"nominal"}}},
   {"data":{"values":[{"r":1,"desc":["","458.5 min. | 96 % of","TIB"]},{"r":2,"desc":["","322 min. | 70.2% of","TST"]},{"r":3,"desc":["","136.5min. | 29.8% of","TST"]}]},
    "mark":{"type":"text","font":"Lato","fontSize":19,"lineHeight":23,"dy":-22,"color":"#262626","baseline":"middle"},
    "encoding":{"x":{"datum":0,"type":"quantitative"},"y":{"field":"r","type":"quantitative"},"text":{"field":"desc","type":"nominal"}}},
   {"data":{"values":[{}]},"mark":{"type":"rule","color":"#3f6fbf","strokeWidth":3.5},
    "encoding":{"x":{"datum":-0.5,"type":"quantitative"},"x2":{"datum":5.5},"y":{"datum":-0.5,"type":"quantitative"}}}
  ]},
 {"width":674,"height":30,"data":{"values":[{}]},"mark":{"type":"text","text":"","fontSize":1}}
],"spacing":0,"center":true,"bounds":"flush"}
]
}
